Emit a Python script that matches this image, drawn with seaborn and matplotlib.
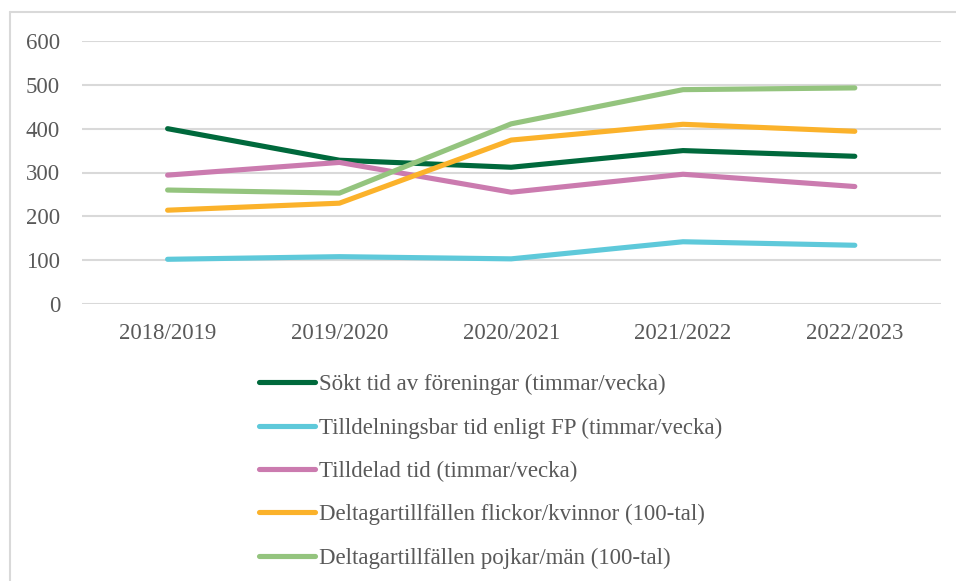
import matplotlib
matplotlib.use("Agg")
import matplotlib.pyplot as plt
import seaborn as sns
import pandas as pd
from matplotlib.lines import Line2D

seasons = ["2018/2019", "2019/2020", "2020/2021", "2021/2022", "2022/2023"]
series_names = [
    "Sökt tid av föreningar (timmar/vecka)",
    "Tilldelningsbar tid enligt FP (timmar/vecka)",
    "Tilldelad tid (timmar/vecka)",
    "Deltagartillfällen flickor/kvinnor (100-tal)",
    "Deltagartillfällen pojkar/män (100-tal)",
]
sokt = [400, 328, 312, 350, 337]
tilldelningsbar = [102, 108, 103, 142, 134]
tilldelad = [294, 323, 255, 296, 268]
flickor = [214, 230, 374, 410, 394]
pojkar = [260, 253, 411, 489, 493]
colors = ["#00693C", "#5EC9DA", "#CB7BAF", "#FBB22B", "#94C47E"]
yticks = [0, 100, 200, 300, 400, 500, 600]

values = [sokt, tilldelningsbar, tilldelad, flickor, pojkar]
rows = []
for name, vals in zip(series_names, values):
    for s, v in zip(seasons, vals):
        rows.append({"season": s, "value": v, "series": name})
df = pd.DataFrame(rows)

sns.set_style("white")
plt.rcParams["font.family"] = ["Liberation Serif", "DejaVu Serif"]
text_color = "#595959"
grid_color = "#D9D9D9"
fs = 16.5

fig = plt.figure(figsize=(9.56, 5.81), dpi=100)
ax = fig.add_axes([81.7 / 956, 1 - 304 / 581, (940.7 - 81.7) / 956, (304 - 41) / 581])

palette = dict(zip(series_names, colors))
sns.lineplot(data=df, x="season", y="value", hue="series", palette=palette,
             hue_order=series_names, sort=False, linewidth=3.7, ax=ax,
             legend=False, solid_capstyle="round")

ax.set_xlim(-0.5, len(seasons) - 0.5)
ax.set_ylim(0, 600)
ax.set_yticks(yticks)
ax.set_yticklabels([str(t) for t in yticks])
ax.set_xlabel("")
ax.set_ylabel("")
for sp in ax.spines.values():
    sp.set_visible(False)
ax.yaxis.grid(True, color=grid_color, linewidth=1.5)
ax.xaxis.grid(False)
ax.set_axisbelow(True)
ax.tick_params(axis="both", length=0, labelsize=fs, labelcolor=text_color)
ax.tick_params(axis="y", pad=15.5)
ax.tick_params(axis="x", pad=13.5)

handles = [Line2D([0], [0], color=c, linewidth=3.7, solid_capstyle="round") for c in colors]
leg = fig.legend(handles, series_names, loc="upper left",
                 bbox_to_anchor=(258.5 / 956, 1 - 374 / 581),
                 frameon=False, fontsize=fs, handlelength=2.45, handletextpad=0.18,
                 labelspacing=0.97, borderpad=0, borderaxespad=0)
for t in leg.get_texts():
    t.set_color(text_color)

# outer chart border (extends beyond the image at right and bottom)
fig.add_artist(Line2D([10 / 956, 1.05], [1 - 12 / 581, 1 - 12 / 581],
                      transform=fig.transFigure, color=grid_color, linewidth=1.5))
fig.add_artist(Line2D([10 / 956, 10 / 956], [-0.05, 1 - 12 / 581],
                      transform=fig.transFigure, color=grid_color, linewidth=1.5))

fig.savefig("out.png", dpi=100)
